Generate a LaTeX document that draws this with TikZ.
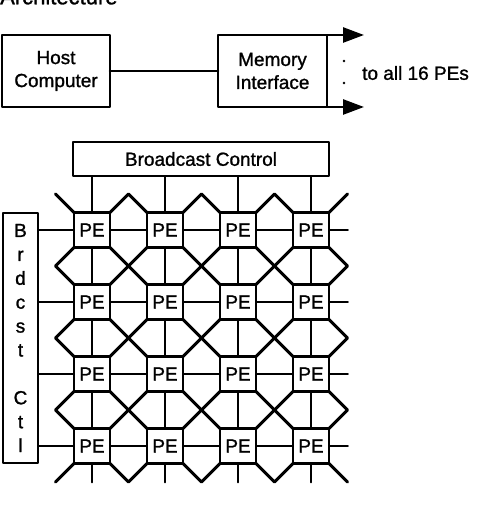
\documentclass[tikz,border=0pt]{standalone}
\usepackage{fontspec}
\setmainfont{Liberation Sans}[BoldFont={Liberation Sans}, BoldFeatures={FakeBold=1.2}]
\usetikzlibrary{arrows.meta}

\begin{document}
\begin{tikzpicture}[x=1pt, y=-1pt, font=\fontsize{19}{23}\selectfont\bfseries, line join=round, line cap=round, >={Triangle[length=21pt,width=15pt]},
		box/.style={draw, line width=2.6pt, align=center, inner sep=0pt, outer sep=0pt},
		pe/.style={box, minimum width=36pt, minimum height=35pt},
		link/.style={line width=1.8pt},
		diag/.style={line width=3.1pt}]
		\def\dx{73}
		\def\dy{72}
		\def\h{18.5}
		\useasboundingbox (0,0) rectangle (478,510);
		\node[anchor=base west, inner sep=0pt, font=\fontsize{22}{26}\selectfont\bfseries] (title) at (0,4.3) {Architecture};
		\node[box, minimum width=108pt, minimum height=72pt] (host) at (56,71) {Host\\Computer};
		\node[box, minimum width=109pt, minimum height=72pt] (mem) at (272.5,71) {Memory\\Interface};
		\draw[line width=2.6pt] (host) -- (mem);
		\draw[line width=2.6pt, ->] (mem.north east) -- ++(37,0);
		\draw[line width=2.6pt, ->] (mem.south east) -- ++(37,0);
		\fill (344,61) circle (1.4pt) (344,83) circle (1.4pt);
		\node[anchor=west, inner sep=0pt] (all) at (362,73) {to all 16 PEs};
		\node[box, minimum width=256pt, minimum height=34pt] (bcast) at (201,159) {Broadcast Control};
		\node[box, minimum width=35pt, minimum height=250pt, font=\fontsize{19}{23.9}\selectfont\bfseries] (bctl) at (20.5,338) {B\\r\\d\\c\\s\\t\\[23.9pt]C\\t\\l};
		\foreach \i in {0,...,3}
		\foreach \j in {0,...,3}
			\node[pe] (pe-\i-\j) at (92+\i*\dx, 230+\j*\dy) {PE};
		\foreach \j in {0,...,3} {
			\draw[link] (bctl.east |- pe-0-\j) -- (pe-0-\j.west);
			\draw[link] (pe-3-\j.east) -- ++(19,0);
			\draw[link] (bcast.south -| pe-\j-0) -- (pe-\j-0.north);
			\draw[link] (pe-\j-3.south) -- ++(0,19);
		}
		\foreach \i/\k in {0/1,1/2,2/3} {
			\foreach \j in {0,...,3} {
				\draw[link] (pe-\i-\j.east) -- (pe-\k-\j.west);
				\draw[link] (pe-\j-\i.south) -- (pe-\j-\k.north);
			}
			\foreach \j/\l in {0/1,1/2,2/3} {
				\draw[diag] (pe-\i-\j.south east) -- (pe-\k-\l.north west);
				\draw[diag] (pe-\k-\j.south west) -- (pe-\i-\l.north east);
			}
			\draw[diag] (pe-\i-0.north east) -- ++(\h,-\h) -- (pe-\k-0.north west);
			\draw[diag] (pe-\i-3.south east) -- ++(\h,\h) -- (pe-\k-3.south west);
			\draw[diag] (pe-0-\i.south west) -- ++(-\h,\h) -- (pe-0-\k.north west);
			\draw[diag] (pe-3-\i.south east) -- ++(\h,\h) -- (pe-3-\k.north east);
		}
		\draw[diag] (pe-0-0.north west) -- ++(-\h,-\h);
		\draw[diag] (pe-3-0.north east) -- ++(\h,-\h);
		\draw[diag] (pe-0-3.south west) -- ++(-\h,\h);
		\draw[diag] (pe-3-3.south east) -- ++(\h,\h);
\end{tikzpicture}
\end{document}
